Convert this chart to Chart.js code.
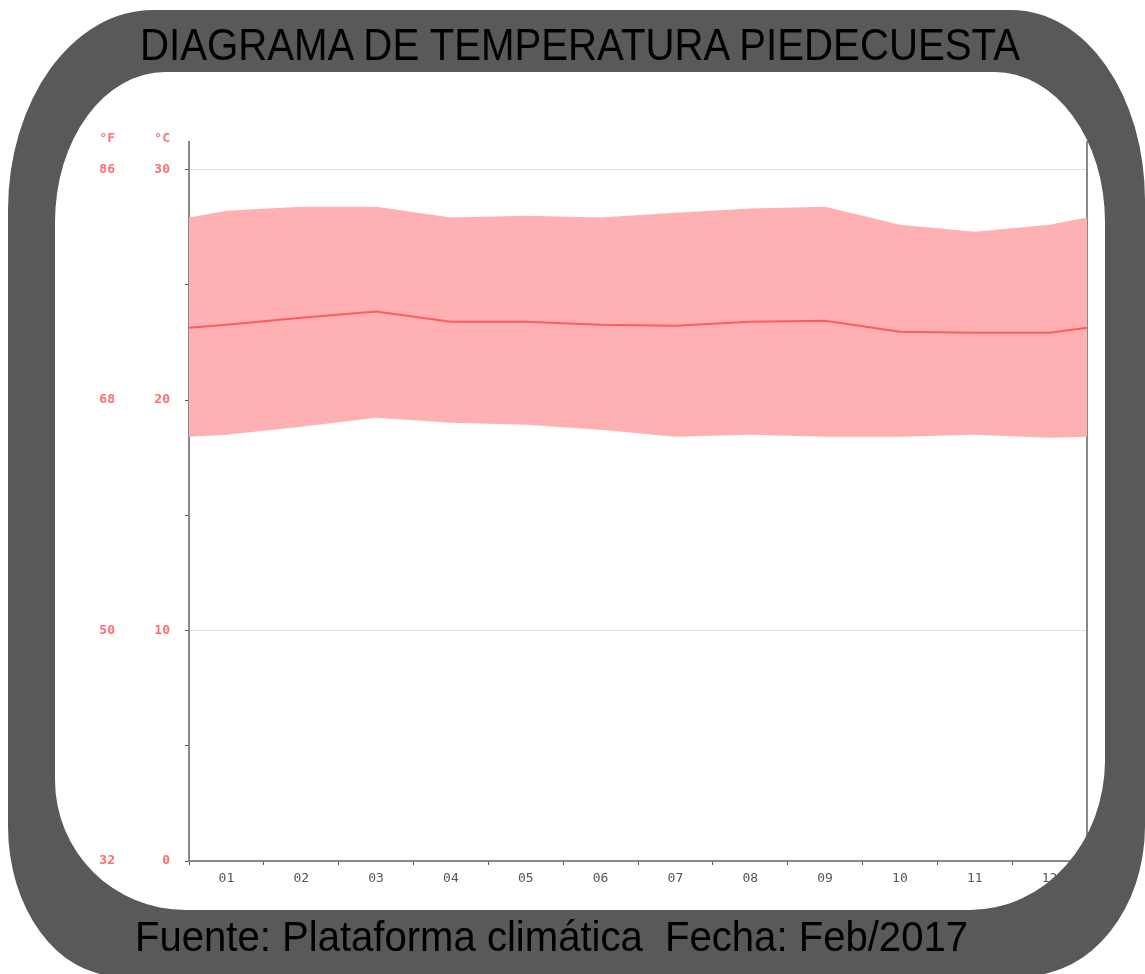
<!DOCTYPE html>
<html>
<head>
<meta charset="utf-8">
<script src="https://cdn.jsdelivr.net/npm/chart.js@4.4.0/dist/chart.umd.min.js"></script>
<style>
html,body{margin:0;padding:0;background:#fff;width:1145px;height:974px;overflow:hidden;}
#wrap{position:relative;width:1145px;height:974px;}
#c{position:absolute;left:0;top:0;}
#frame{position:absolute;left:0;top:0;pointer-events:none;}
.txt{position:absolute;white-space:nowrap;font-family:"Liberation Sans",Arial,sans-serif;color:#000;line-height:1;transform-origin:0 0;}
.hdr{position:absolute;width:40px;font-family:"DejaVu Sans Mono",monospace;font-size:13px;font-weight:bold;color:#ff6e6e;text-align:right;line-height:1;}
</style>
</head>
<body>
<div id="wrap">
  <canvas id="c" width="1145" height="974"></canvas>
  <svg id="frame" width="1145" height="974"><path id="ring" fill="#595959" fill-rule="evenodd"/></svg>
  <div class="hdr" style="left:75px;top:131px;">°F</div>
  <div class="hdr" style="left:130px;top:131px;">°C</div>
  <div class="txt" id="title" style="left:140px;top:22px;font-size:45px;" data-w="880">DIAGRAMA DE TEMPERATURA PIEDECUESTA</div>
  <div class="txt" id="footer" style="left:135px;top:916px;font-size:42px;" data-w="833">Fuente: Plataforma climática&nbsp; Fecha: Feb/2017</div>
</div>
<script>
// ---- data ----
const months = ['01','02','03','04','05','06','07','08','09','10','11','12'];
const tMax  = [28.22, 28.39, 28.39, 27.92, 28.00, 27.92, 28.13, 28.31, 28.39, 27.61, 27.31, 27.61];
const tMean = [23.27, 23.57, 23.84, 23.40, 23.40, 23.27, 23.23, 23.40, 23.44, 22.97, 22.92, 22.92];
const tMin  = [18.50, 18.84, 19.23, 19.02, 18.93, 18.71, 18.41, 18.50, 18.41, 18.41, 18.50, 18.37];
// values read at the left / right edges of the plot (year wrap)
const edgeMax = 27.92, edgeMean = 23.14, edgeMin = 18.41;
const cTicks = [0, 5, 10, 15, 20, 25, 30];
const fTicks = [32, 50, 68, 86];
const yMax = 31.2;

function pts(vals, edge) {
  const out = [{x: 0, y: edge}];
  vals.forEach((v, i) => out.push({x: i + 0.5, y: v}));
  out.push({x: months.length, y: edge});
  return out;
}

// ---- frame ring ----
function rr(x0, y0, x1, y1, tl, tr, br, bl) {
  return `M${x0+tl[0]},${y0} H${x1-tr[0]} A${tr[0]},${tr[1]} 0 0 1 ${x1},${y0+tr[1]} ` +
         `V${y1-br[1]} A${br[0]},${br[1]} 0 0 1 ${x1-br[0]},${y1} H${x0+bl[0]} ` +
         `A${bl[0]},${bl[1]} 0 0 1 ${x0},${y1-bl[1]} V${y0+tl[1]} A${tl[0]},${tl[1]} 0 0 1 ${x0+tl[0]},${y0} Z`;
}
document.getElementById('ring').setAttribute('d',
  rr(8, 10, 1145, 976, [145,200], [133,190], [120,150], [110,150]) + ' ' +
  rr(55, 72, 1105, 910, [110,150], [110,150], [135,150], [130,130]));

// fit text widths
document.querySelectorAll('.txt').forEach(el => {
  const w = el.getBoundingClientRect().width;
  const target = parseFloat(el.dataset.w);
  el.style.transform = `scaleX(${target / w})`;
});

const labelColor = '#ff6e6e';
const axisColor = '#888';
const labelFont = { family: 'DejaVu Sans Mono', size: 13, weight: 'bold' };

new Chart(document.getElementById('c'), {
  type: 'line',
  data: {
    datasets: [
      { label: 'Media', data: pts(tMean, edgeMean), borderColor: '#ff5c5c', borderWidth: 2,
        pointRadius: 0, fill: false, tension: 0, xAxisID: 'xl', yAxisID: 'yC' },
      { label: 'Máx', data: pts(tMax, edgeMax), borderColor: 'rgba(0,0,0,0)', borderWidth: 0,
        backgroundColor: '#ffb0b2', pointRadius: 0, fill: '+1', tension: 0, xAxisID: 'xl', yAxisID: 'yC' },
      { label: 'Mín', data: pts(tMin, edgeMin), borderColor: 'rgba(0,0,0,0)', borderWidth: 0,
        pointRadius: 0, fill: false, tension: 0, xAxisID: 'xl', yAxisID: 'yC' }
    ]
  },
  options: {
    responsive: false, animation: false, devicePixelRatio: 1,
    layout: { padding: { left: 0, top: 142, right: 58, bottom: 83 } },
    plugins: { legend: { display: false }, tooltip: { enabled: false }, title: { display: false } },
    scales: {
      x: {
        type: 'category', labels: months, position: 'bottom', offset: true,
        grid: { offset: true, drawOnChartArea: false, tickLength: 4, color: '#555' },
        border: { color: axisColor, width: 2 },
        ticks: { color: '#555', font: { family: 'DejaVu Sans Mono', size: 13 }, padding: 6, maxRotation: 0, autoSkip: false },
        afterFit: s => { s.height = 30; }
      },
      xl: { type: 'linear', min: 0, max: months.length, display: false },
      yF: {
        type: 'linear', position: 'left', weight: 1, min: 32, max: 32 + yMax * 1.8,
        afterBuildTicks: s => { s.ticks = fTicks.map(v => ({ value: v })); },
        grid: { display: false, drawTicks: false },
        border: { display: false },
        ticks: { padding: 0, color: labelColor, font: labelFont },
        afterFit: s => { s.width = 115; }
      },
      yC: {
        type: 'linear', position: 'left', weight: 0, min: 0, max: yMax,
        afterBuildTicks: s => { s.ticks = cTicks.map(v => ({ value: v })); },
        grid: {
          color: c => (c.tick && c.tick.value % 10 === 0 && c.tick.value > 0) ? '#dedede' : 'rgba(0,0,0,0)',
          tickColor: '#555', tickLength: 4, lineWidth: 1
        },
        border: { color: axisColor, width: 2 },
        ticks: { padding: 15, color: labelColor, font: labelFont,
                 callback: v => (v % 10 === 0 ? String(v) : '') },
        afterFit: s => { s.width = 74; }
      },
      yR: {
        type: 'linear', position: 'right', min: 0, max: yMax,
        ticks: { display: false },
        grid: { display: false, drawTicks: false },
        border: { display: true, color: axisColor, width: 2 },
        afterFit: s => { s.width = 0; }
      }
    }
  }
});
</script>
</body>
</html>
